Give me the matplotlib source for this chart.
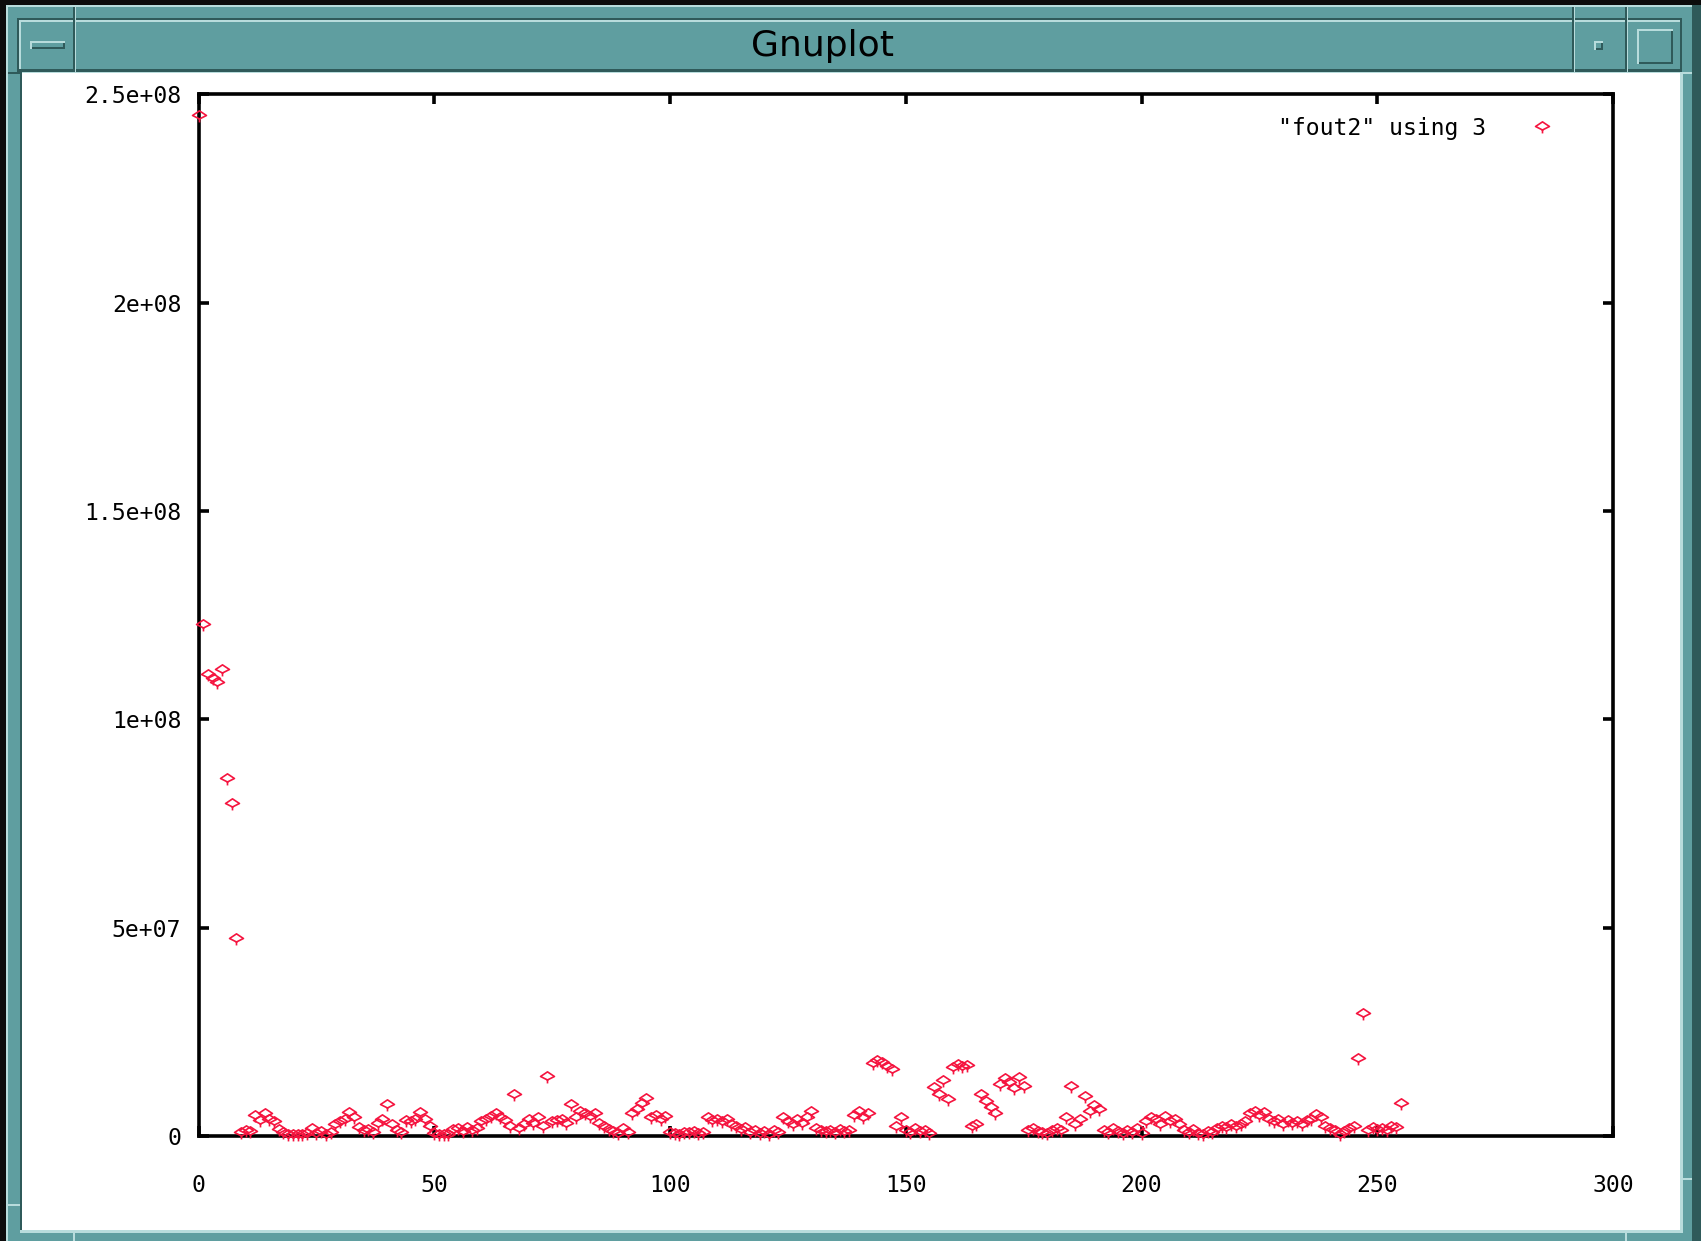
import numpy as np
import matplotlib
matplotlib.use('Agg')
import matplotlib.pyplot as plt
from matplotlib.patches import Rectangle
from matplotlib.path import Path

# column 3 of "fout2", one value per row (row number is the x value), in millions
counts_m = [
    245, 123, 111, 110, 109, 112, 86, 80, 47.5, 1.0,
    1.5, 1.2, 5.0, 3.8, 5.5, 4.2, 3.5, 1.8, 1.0, 0.6,
    0.5, 0.6, 0.4, 0.8, 2.0, 0.7, 1.2, 0.5, 0.9, 2.8,
    3.5, 4.0, 5.8, 4.5, 2.2, 1.5, 1.8, 1.0, 3.2, 4.0,
    7.8, 3.0, 1.5, 1.0, 3.8, 3.5, 4.2, 5.8, 4.0, 2.5,
    0.8, 0.6, 0.5, 0.4, 1.8, 2.0, 1.2, 2.2, 1.5, 2.0,
    3.5, 4.2, 4.8, 5.5, 4.5, 3.8, 2.5, 10.0, 2.0, 3.0,
    4.0, 3.2, 4.5, 2.5, 14.5, 3.5, 3.8, 4.0, 3.2, 7.8,
    4.5, 6.0, 5.5, 4.8, 5.5, 3.2, 2.5, 1.8, 1.2, 0.8,
    2.0, 1.0, 5.5, 6.5, 8.0, 9.2, 4.5, 5.0, 4.0, 4.8,
    1.0, 0.8, 0.6, 1.0, 0.9, 1.2, 0.8, 1.0, 4.5, 3.8,
    4.2, 3.5, 4.0, 3.0, 2.5, 1.8, 2.2, 1.0, 1.5, 0.8,
    1.2, 0.6, 1.5, 0.9, 4.5, 3.5, 2.8, 4.0, 3.2, 4.5,
    6.0, 2.0, 1.5, 1.2, 1.5, 1.0, 1.8, 1.2, 1.5, 5.0,
    6.0, 4.5, 5.5, 17.5, 18.2, 17.8, 16.8, 16.0, 2.5, 4.5,
    1.5, 1.0, 2.0, 1.2, 1.5, 0.8, 11.8, 10.0, 13.5, 8.8,
    16.5, 17.2, 16.8, 17.0, 2.5, 3.0, 10.0, 8.5, 7.0, 5.5,
    12.5, 14.0, 13.0, 11.5, 14.2, 12.0, 1.5, 2.0, 1.2, 1.0,
    0.8, 1.5, 2.0, 1.5, 4.5, 12.0, 3.0, 4.0, 9.6, 6.0,
    7.5, 6.5, 1.5, 1.0, 2.0, 1.2, 0.8, 1.5, 1.0, 2.0,
    0.8, 3.5, 4.5, 4.0, 3.0, 4.8, 3.5, 4.2, 2.8, 1.5,
    1.0, 1.8, 0.8, 0.6, 1.2, 1.0, 2.0, 2.5, 2.2, 2.8,
    2.5, 2.8, 3.5, 5.5, 6.0, 5.0, 5.8, 4.0, 3.5, 4.2,
    3.0, 3.8, 3.2, 3.5, 3.0, 3.8, 4.2, 5.2, 4.5, 2.5,
    2.0, 1.5, 0.5, 1.2, 2.0, 2.5, 18.7, 29.5, 1.5, 2.2,
    1.8, 2.0, 1.5, 2.5, 2.2, 8.0,
]
x_ticks = [0, 50, 100, 150, 200, 250, 300]
y_ticks = [0, 5e7, 1e8, 1.5e8, 2e8, 2.5e8]
y_tick_labels = ['0', '5e+07', '1e+08', '1.5e+08', '2e+08', '2.5e+08']
legend_label = '"fout2" using 3'
window_title = 'Gnuplot'

rows = np.arange(len(counts_m))
values = np.array(counts_m) * 1e6

W, H = 1701, 1241
TEAL = '#5f9ea0'
LIGHT = '#b8dcdc'
DARK = '#2f5a5a'
RED = '#f5143f'

fig = plt.figure(figsize=(W / 100, H / 100), dpi=100, facecolor='#0c0c0c')


def box(x0, y0, x1, y1, color):
    # rectangle given in screen pixels, origin top-left
    fig.add_artist(Rectangle((x0 / W, 1 - y1 / H), (x1 - x0) / W, (y1 - y0) / H,
                             transform=fig.transFigure, facecolor=color,
                             edgecolor='none', zorder=-5))


# window frame
box(6, 5, W, H, TEAL)
box(1692, 5, W, H, DARK)
box(6, 5, 1692, 7, LIGHT)
box(6, 5, 8, H, LIGHT)
# title bar
box(17, 18, 1682, 20, DARK)
box(17, 18, 19, 72, DARK)
box(19, 20, 1680, 22, LIGHT)
box(19, 20, 21, 70, LIGHT)
box(19, 69, 1682, 72, DARK)
box(1680, 20, 1682, 72, DARK)
for sx in (73, 1572, 1625):
    box(sx, 7, sx + 1.5, 72, DARK)
    box(sx + 1.5, 7, sx + 3, 72, LIGHT)
# minimize / iconify / maximize buttons
box(30, 41, 65, 49, LIGHT)
box(32, 43, 65, 49, DARK)
box(32, 43, 63, 47, TEAL)
box(1594, 41, 1603, 50, LIGHT)
box(1596, 43, 1603, 50, DARK)
box(1596, 43, 1601, 48, TEAL)
box(1637, 29, 1673, 64, LIGHT)
box(1639, 31, 1673, 64, DARK)
box(1639, 31, 1671, 62, TEAL)
# drawing area
box(20, 72, 1683, 1233, LIGHT)
box(20, 72, 22, 1230, DARK)
box(22, 73, 1680, 1230, 'white')
# resize handle marks
box(73, 1233, 75, H, LIGHT)
box(1625, 1233, 1627, H, LIGHT)
box(6, 1204, 20, 1206, LIGHT)
box(1683, 1178, 1692, 1180, LIGHT)
box(1683, 72, 1692, 74, LIGHT)
box(8, 72, 20, 74, DARK)

fig.text(822 / W, 1 - 46 / H, window_title, ha='center', va='center',
         fontsize=26, color='black', family='DejaVu Sans')

ax = fig.add_axes([198.5 / W, 1 - 1136 / H, 1414.5 / W, 1041.6 / H])
ax.set_facecolor('white')

marker = Path([(0, 4), (-6, 0), (0, -3), (6, 0), (0, 4), (0, -3), (0, -6)],
              [Path.MOVETO, Path.LINETO, Path.LINETO, Path.LINETO,
               Path.CLOSEPOLY, Path.MOVETO, Path.LINETO])
pts, = ax.plot(rows, values, linestyle='none', marker=marker, ms=10,
               mfc='none', mec=RED, mew=1.2, clip_on=False, zorder=3)

ax.set_xlim(0, 300)
ax.set_ylim(0, 2.5e8)
ax.set_xticks(x_ticks)
ax.set_yticks(y_ticks)
ax.set_yticklabels(y_tick_labels)
for s in ax.spines.values():
    s.set_linewidth(2.6)
    s.set_color('black')
ax.tick_params(direction='in', length=7.5, width=2.6, top=True, right=True,
               labelsize=16.7, colors='black')
ax.tick_params(axis='y', pad=12.5)
ax.tick_params(axis='x', pad=27)
for lab in ax.get_xticklabels() + ax.get_yticklabels():
    lab.set_family('DejaVu Sans Mono')

ax.legend([pts], [legend_label], loc='center right', frameon=False,
          markerfirst=False, handlelength=2.0, handletextpad=1.4,
          borderpad=0, borderaxespad=0, bbox_to_anchor=(0.9663, 0.9677),
          prop={'family': 'DejaVu Sans Mono', 'size': 16.7})

fig.savefig('out.png', dpi=100)
